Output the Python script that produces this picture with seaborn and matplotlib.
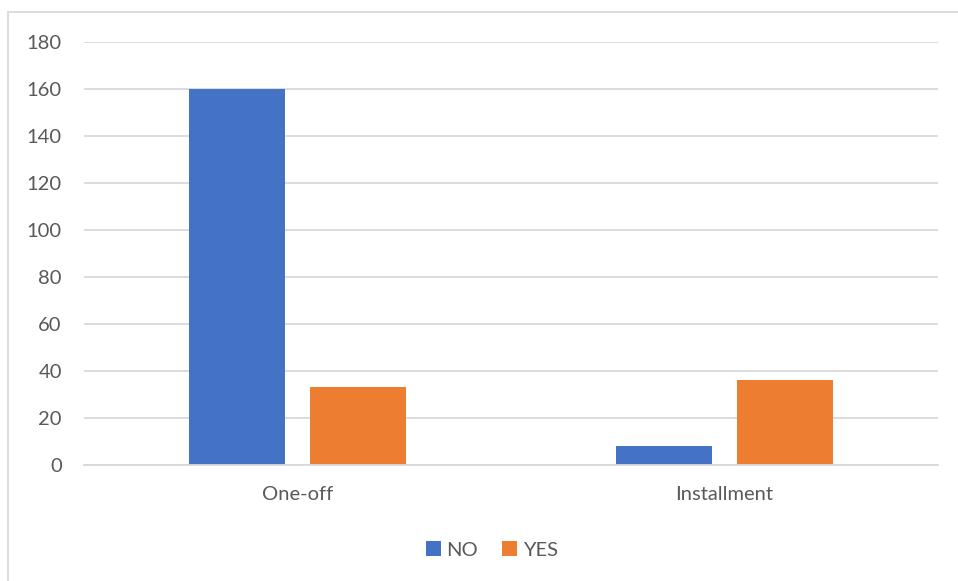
import matplotlib
matplotlib.use("Agg")
import matplotlib.pyplot as plt
from matplotlib.patches import Rectangle
import seaborn as sns
import pandas as pd

categories = ["One-off", "Installment"]
no_values = [160, 8]
yes_values = [33, 36]
series_names = ["NO", "YES"]
y_ticks = [0, 20, 40, 60, 80, 100, 120, 140, 160, 180]

df = pd.DataFrame({
    "category": categories * 2,
    "series": [series_names[0]] * len(categories) + [series_names[1]] * len(categories),
    "value": no_values + yes_values,
})

sns.set_theme(style="white")
plt.rcParams["font.family"] = ["Lato", "DejaVu Sans"]

text_color = "#595959"
grid_color = "#d9d9d9"
palette = {"NO": "#4472c4", "YES": "#ed7d31"}

fig = plt.figure(figsize=(9.58, 5.81), dpi=100)
ax = fig.add_axes([84 / 958, 116 / 581, 854 / 958, 423 / 581])

sns.barplot(data=df, x="category", y="value", hue="series", order=categories,
            hue_order=series_names, palette=palette, width=0.568, gap=0.208,
            saturation=1, linewidth=0, ax=ax)

ax.set_xlim(-0.5, 1.5)
ax.set_ylim(0, 180)
ax.set_yticks(y_ticks)
ax.set_yticklabels([str(t) for t in y_ticks])
ax.yaxis.grid(True, color=grid_color, linewidth=1.3)
ax.set_axisbelow(True)
for side in ["left", "right", "top"]:
    ax.spines[side].set_visible(False)
ax.spines["bottom"].set_color(grid_color)
ax.spines["bottom"].set_linewidth(1.3)
ax.tick_params(axis="both", length=0, labelsize=14.5, labelcolor=text_color)
ax.tick_params(axis="y", pad=16)
ax.tick_params(axis="x", pad=15)
ax.set_xlabel("")
ax.set_ylabel("")

handles, labels = ax.get_legend_handles_labels()
ax.legend(handles, labels, loc="center", ncol=2, frameon=False,
          fontsize=14.5, labelcolor=text_color, handlelength=0.7, handleheight=0.7,
          handletextpad=0.3, columnspacing=1.2)
leg = ax.get_legend()
leg.set_bbox_to_anchor((492 / 958, 1 - 550 / 581), transform=fig.transFigure)

# chart frame
fig.patches.append(Rectangle((7.5 / 958, -0.1), 1.2, 1 - 12.5 / 581 + 0.1,
                             transform=fig.transFigure, fill=False,
                             edgecolor=grid_color, linewidth=1.3))

fig.savefig("out.png", dpi=100)
